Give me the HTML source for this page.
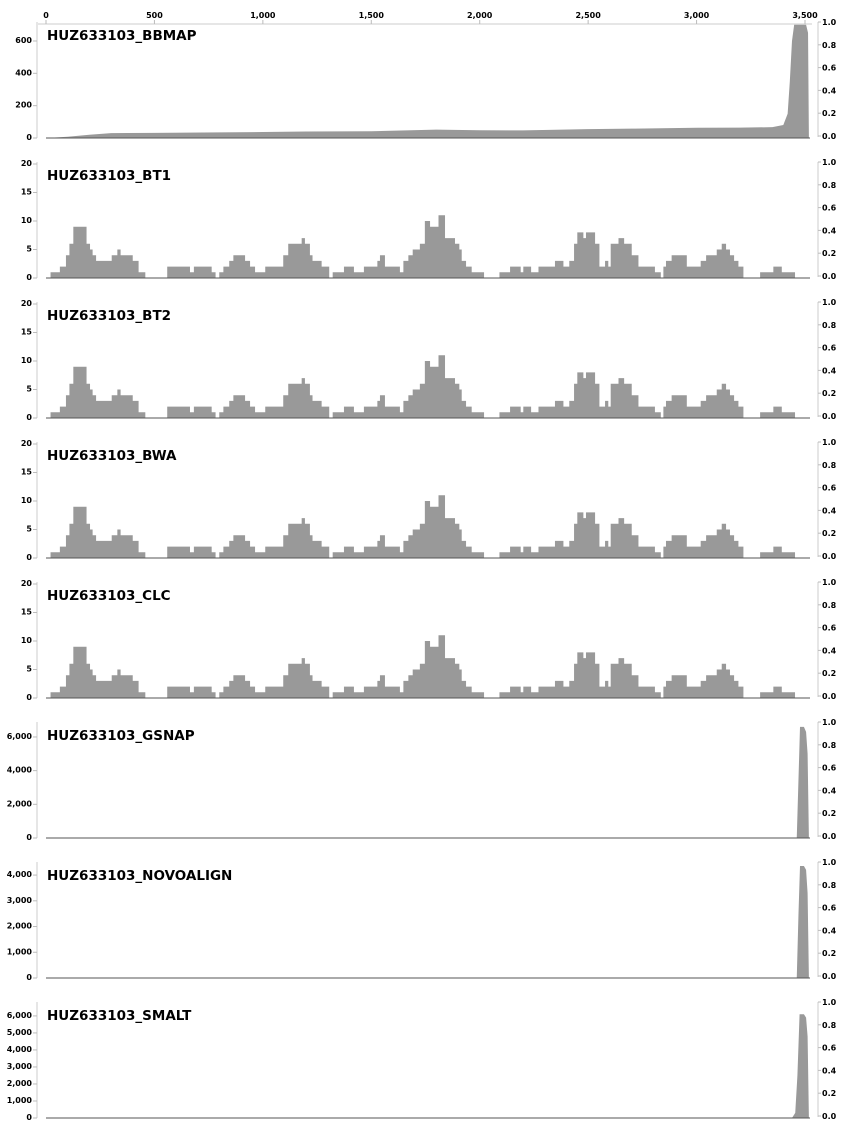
<!DOCTYPE html>
<html><head><meta charset="utf-8"><style>
html,body{margin:0;padding:0;background:#fff;}
svg{display:block;font-family:"DejaVu Sans","Liberation Sans",sans-serif;}
.t{font-size:8px;font-weight:bold;fill:#000;}
.title{font-size:13.5px;font-weight:bold;fill:#000;}
</style></head><body>
<svg id="chart" width="847" height="1138"></svg>
<script>
// ---- data ----
const xTicks = [0,500,1000,1500,2000,2500,3000,3500];
const xTickLabels = ["0","500","1,000","1,500","2,000","2,500","3,000","3,500"];
const rightTicks = [0,0.2,0.4,0.6,0.8,1.0];
const rightTickLabels = ["0.0","0.2","0.4","0.6","0.8","1.0"];
const panelNames = ["HUZ633103_BBMAP","HUZ633103_BT1","HUZ633103_BT2","HUZ633103_BWA","HUZ633103_CLC","HUZ633103_GSNAP","HUZ633103_NOVOALIGN","HUZ633103_SMALT"];
const panelMax = [705,20,20,20,20,6770,4430,6700];
const panelTicks = [[0,200,400,600],[0,5,10,15,20],[0,5,10,15,20],[0,5,10,15,20],[0,5,10,15,20],[0,2000,4000,6000],[0,1000,2000,3000,4000],[0,1000,2000,3000,4000,5000,6000]];
const panelTickLabels = [["0","200","400","600"],["0","5","10","15","20"],["0","5","10","15","20"],["0","5","10","15","20"],["0","5","10","15","20"],["0","2,000","4,000","6,000"],["0","1,000","2,000","3,000","4,000"],["0","1,000","2,000","3,000","4,000","5,000","6,000"]];
// BBMAP smooth coverage
const bbPos = [0,100,200,300,500,800,1000,1200,1500,1800,2000,2200,2500,2700,3000,3200,3350,3400,3420,3430,3440,3450,3505,3514,3518];
const bbVal = [0,8,20,30,32,35,37,40,42,52,48,47,55,58,63,64,67,80,150,350,600,700,700,650,0];
// step coverage (BT1/BT2/BWA/CLC)
const stepStart = [0,21,64,92,108,126,187,203,215,231,303,329,344,400,427,458,559,664,682,764,782,799,818,845,864,918,941,964,1011,1094,1117,1179,1194,1217,1229,1271,1306,1322,1374,1420,1466,1528,1540,1563,1632,1648,1671,1691,1724,1747,1771,1794,1810,1840,1886,1906,1917,1937,1963,2020,2091,2140,2189,2201,2237,2271,2347,2386,2413,2435,2450,2478,2490,2532,2552,2578,2593,2604,2640,2666,2701,2732,2808,2835,2847,2859,2885,2955,3019,3044,3093,3116,3136,3154,3173,3193,3216,3293,3354,3393,3454];
const stepVal = [0,1,2,4,6,9,6,5,4,3,4,5,4,3,1,0,2,1,2,1,0,1,2,3,4,3,2,1,2,4,6,7,6,4,3,2,0,1,2,1,2,3,4,2,1,3,4,5,6,10,9,9,11,7,6,5,3,2,1,0,1,2,1,2,1,2,3,2,3,6,8,7,8,6,2,3,2,6,7,6,4,2,1,0,2,3,4,2,3,4,5,6,5,4,3,2,0,1,2,1,0];
const gsPos = [0,3462,3470,3477,3495,3505,3512,3518];
const gsVal = [0,0,3500,6600,6600,6300,5000,0];
const nvPos = [0,3462,3470,3477,3495,3505,3512,3518];
const nvVal = [0,0,2500,4350,4350,4200,3300,0];
const smPos = [0,100,300,3440,3455,3465,3475,3495,3505,3512,3518];
const smVal = [0,15,0,0,300,2500,6100,6100,5900,4800,0];

// ---- layout ----
const NS="http://www.w3.org/2000/svg";
const svg=document.getElementById('chart');
const X0=46, XS=759/3500, PITCH=140, TOP0=24, H=114;
function xs(u){return X0+u*XS;}
function mk(tag,attrs,parent){const e=document.createElementNS(NS,tag);for(const k in attrs)e.setAttribute(k,attrs[k]);(parent||svg).appendChild(e);return e;}

// top axis
const topAxis=mk('g',{});


mk('line',{x1:38,y1:24,x2:812,y2:24,stroke:'#ccc','stroke-width':1},topAxis);
xTicks.forEach((v,i)=>{
  mk('line',{x1:xs(v),y1:20,x2:xs(v),y2:24,stroke:'#bbb'},topAxis);
  const t=mk('text',{x:xs(v),y:18,'text-anchor':'middle',class:'t'},topAxis);
  t.textContent=xTickLabels[i];
  
  
});

function areaPath(pos,val,ys){let d='M'+xs(pos[0])+','+ys(0);for(let i=0;i<pos.length;i++)d+=' L'+xs(pos[i]).toFixed(2)+','+ys(val[i]).toFixed(2);d+=' L'+xs(pos[pos.length-1])+','+ys(0)+' Z';return d;}
function stepPath(st,vl,ys){let d='M'+xs(st[0])+','+ys(0);for(let i=0;i<st.length;i++){const x1=xs(st[i]);const x2=i+1<st.length?xs(st[i+1]):xs(st[i]);d+=' L'+x1.toFixed(2)+','+ys(vl[i]).toFixed(2)+' L'+x2.toFixed(2)+','+ys(vl[i]).toFixed(2);}d+=' L'+xs(st[st.length-1])+','+ys(0)+' Z';return d;}

panelNames.forEach((name,p)=>{
  const top=TOP0+PITCH*p, base=top+H;
  const ys=v=>base-v/panelMax[p]*H;
  const g=mk('g',{});
  
  
  // left axis
  mk('line',{x1:37,y1:top-2,x2:37,y2:base,stroke:'#ccc'},g);
  panelTicks[p].forEach((v,i)=>{
    mk('line',{x1:33,y1:ys(v),x2:37,y2:ys(v),stroke:'#bbb'},g);
    const t=mk('text',{x:32,y:ys(v)+2,'text-anchor':'end',class:'t'},g);
    t.textContent=panelTickLabels[p][i];
    
    
  });
  // right axis
  mk('line',{x1:818,y1:top-2,x2:818,y2:base-1,stroke:'#ccc'},g);
  rightTicks.forEach((v,i)=>{
    const y=base-2-v*H;
    mk('line',{x1:818,y1:y,x2:821,y2:y,stroke:'#bbb'},g);
    const t=mk('text',{x:822,y:y+3,'text-anchor':'start',class:'t'},g);
    t.textContent=rightTickLabels[i];
    
    
  });
  // series
  let d;
  if(p===0) d=areaPath(bbPos,bbVal,ys);
  else if(p<=4) d=stepPath(stepStart,stepVal,ys);
  else if(p===5) d=areaPath(gsPos,gsVal,ys);
  else if(p===6) d=areaPath(nvPos,nvVal,ys);
  else d=areaPath(smPos,smVal,ys);
  const a=mk('path',{d:d,fill:'#999',stroke:'none'},g);
  
  
  mk('line',{x1:46,y1:base,x2:810,y2:base,stroke:'#555','stroke-width':1},g);
  const t=mk('text',{x:47,y:top+16,class:'title'},g);
  t.textContent=name;
  
  
});
</script>
</body></html>
